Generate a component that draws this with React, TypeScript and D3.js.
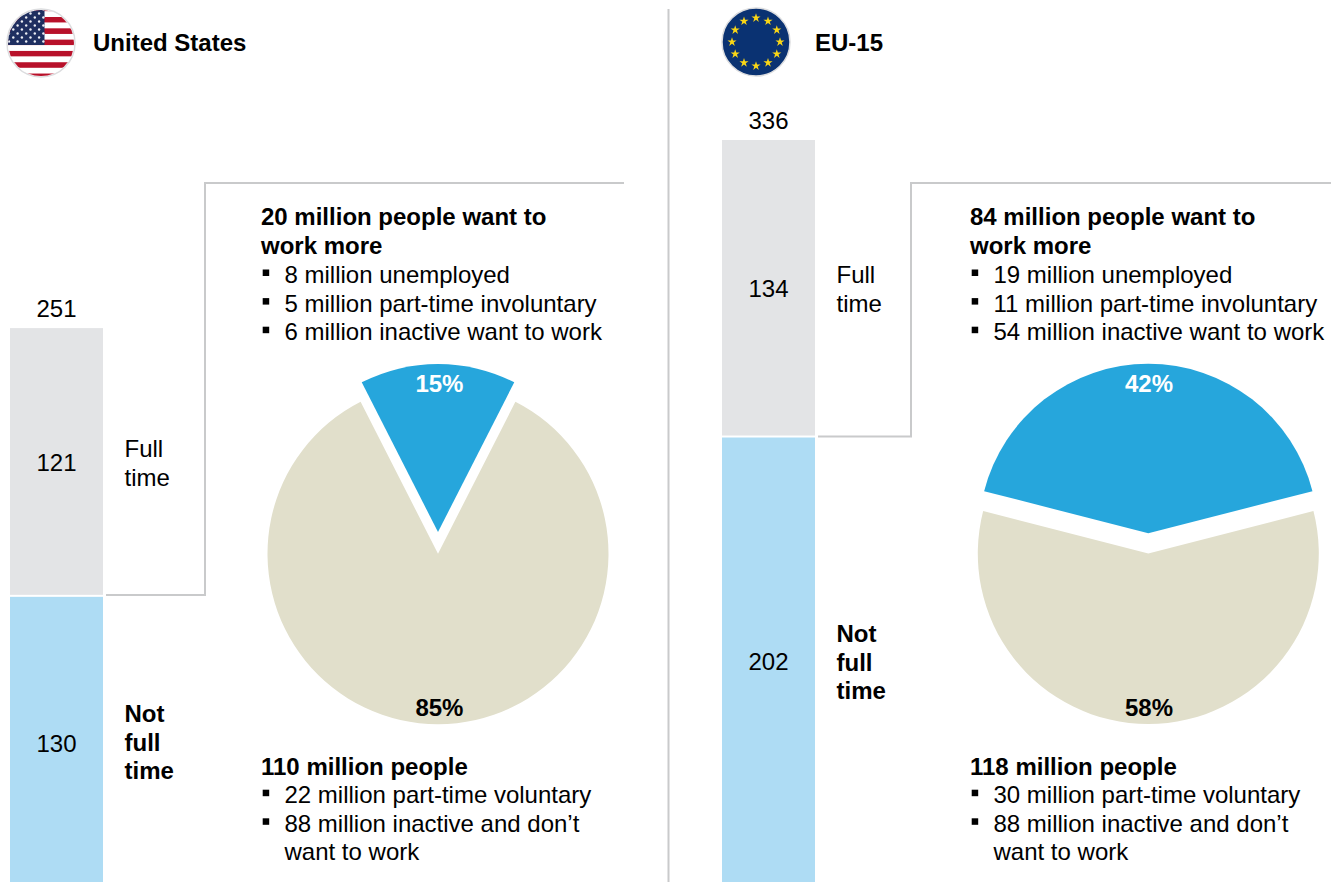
import React from "react";
import * as d3 from "d3";

const FONT = "'Liberation Sans', Arial, sans-serif";
const usBar = [{ label: "Not full time", value: 130 }, { label: "Full time", value: 121 }];
const euBar = [{ label: "Not full time", value: 202 }, { label: "Full time", value: 134 }];
const usTotal = 251;
const euTotal = 336;
const usPie = [15, 85];
const euPie = [42, 58];
const usWantHead = ["20 million people want to", "work more"];
const usWantItems = ["8 million unemployed", "5 million part-time involuntary", "6 million inactive want to work"];
const usNoHead = ["110 million people"];
const usNoItems = [["22 million part-time voluntary"], ["88 million inactive and don\u2019t", "want to work"]];
const euWantHead = ["84 million people want to", "work more"];
const euWantItems = ["19 million unemployed", "11 million part-time involuntary", "54 million inactive want to work"];
const euNoHead = ["118 million people"];
const euNoItems = [["30 million part-time voluntary"], ["88 million inactive and don\u2019t", "want to work"]];

const FS = 24;
const LH = 28.6;
const GREY = "#e3e4e6";
const LBLUE = "#aedcf4";
const BLUE = "#26a6dc";
const BEIGE = "#e1dfcb";
const LINE = "#c9cacb";
const y = d3.scaleLinear().domain([0, 336]).range([883.5, 140]);

function T(p: any) {
  return <text fontFamily={FONT} fontSize={FS} fill="#000" {...p} />;
}

function Bar({ x, data, total, labelX, labelLines, valueY }: any) {
  const stack = d3.stack().keys(["a", "b"])([{ a: data[0].value, b: data[1].value }] as any);
  const w = 93;
  return (
    <g>
      <rect x={x} y={y(stack[0][0][1]) + 1} width={w} height={882 - y(stack[0][0][1]) - 1} fill={LBLUE} />
      <rect x={x} y={y(stack[1][0][1])} width={w} height={y(stack[1][0][0]) - y(stack[1][0][1]) - 1} fill={GREY} />
      <T x={x + w / 2} y={y(total) - 11} textAnchor="middle">{total}</T>
      <T x={x + w / 2} y={valueY[1]} textAnchor="middle">{data[1].value}</T>
      <T x={x + w / 2} y={valueY[0]} textAnchor="middle">{data[0].value}</T>
      {labelLines.full.map((s: string, i: number) => (
        <T key={s} x={labelX} y={labelLines.fullY + i * LH}>{s}</T>
      ))}
      {labelLines.not.map((s: string, i: number) => (
        <T key={s} x={labelX} y={labelLines.notY + i * LH} fontWeight="bold">{s}</T>
      ))}
    </g>
  );
}

function Pie({ cx, cy, vals, labelY, labelDx, blueR, blueLift }: any) {
  const blueSpan = (vals[0] / 100) * 2 * Math.PI;
  const arcs = d3.pie<number>().sort(null).startAngle(-blueSpan / 2).endAngle(2 * Math.PI - blueSpan / 2)(vals);
  const arcBlue = d3.arc<any>().innerRadius(0).outerRadius(blueR);
  const arcBeige = d3.arc<any>().innerRadius(0).outerRadius(170.5);
  return (
    <g>
      <path d={arcBeige(arcs[1]) as string} transform={`translate(${cx},${cy})`} fill={BEIGE} />
      <path d={arcBlue(arcs[0]) as string} transform={`translate(${cx},${cy - blueLift})`} fill={BLUE} />
      <T x={cx + labelDx} y={labelY[0]} textAnchor="middle" fontWeight="bold" fill="#fff">{vals[0]}%</T>
      <T x={cx + labelDx} y={labelY[1]} textAnchor="middle" fontWeight="bold">{vals[1]}%</T>
    </g>
  );
}

function Block({ x, y: y0, head, items, itemDy }: any) {
  let row = 0;
  const out: any[] = [];
  head.forEach((s: string) => {
    out.push(<T key={"h" + row} x={x} y={y0 + row * LH} fontWeight="bold">{s}</T>);
    row++;
  });
  items.forEach((it: any) => {
    const lines = Array.isArray(it) ? it : [it];
    out.push(<rect key={"b" + row} x={x + 1.7} y={y0 + row * LH - 13.5 + itemDy} width={6.5} height={6.5} fill="#000" />);
    lines.forEach((s: string) => {
      out.push(<T key={"t" + row} x={x + 23.5} y={y0 + row * LH + itemDy}>{s}</T>);
      row++;
    });
  });
  return <g>{out}</g>;
}

function UsFlag({ cx, cy, r }: any) {
  const stripes = d3.range(13);
  const s = d3.scaleBand<number>().domain(stripes).range([cy - 37.3, cy + 36.2]);
  const stars: [number, number][] = [];
  const left = cx - r;
  for (let row = 0; row < 9; row++) {
    for (let c = 0; c < 6; c++) {
      const sx = left + 2 + c * 8.6 - (row % 2 ? 4.3 : 0);
      if (sx < cx + 2.5) stars.push([sx, cy - r + 0.5 + row * 4]);
    }
  }
  return (
    <g>
      <defs>
        <clipPath id="usclip"><circle cx={cx} cy={cy} r={r - 1} /></clipPath>
      </defs>
      <circle cx={cx} cy={cy} r={r} fill="#fff" stroke="#dcdddf" strokeWidth={1.5} />
      <g clipPath="url(#usclip)">
        {stripes.map((i) => (
          <rect key={i} x={cx - r} y={s(i)} width={2 * r} height={s.bandwidth()} fill={i % 2 ? "#fff" : "#b8112a"} />
        ))}
        <rect x={cx - r} y={cy - r} width={r + 3.5} height={r + 2} fill="#1f2f60" />
        {stars.map(([a, b], i) => <circle key={i} cx={a} cy={b} r={1.2} fill="#eef0f5" />)}
      </g>
    </g>
  );
}

function EuFlag({ cx, cy, r }: any) {
  const star = d3.symbol().type(d3.symbolStar).size(26);
  const angle = d3.scaleLinear().domain([0, 12]).range([0, 2 * Math.PI]);
  return (
    <g>
      <circle cx={cx} cy={cy} r={r} fill="#0a3272" stroke="#dcdddf" strokeWidth={1.5} />
      {d3.range(12).map((i) => (
        <path key={i} d={star() as string} fill="#f9d616"
          transform={`translate(${cx + 24 * Math.sin(angle(i))},${cy - 24 * Math.cos(angle(i))})`} />
      ))}
    </g>
  );
}

export default function App() {
  return (
    <svg width={1336} height={882} style={{ position: "absolute", left: 0, top: 0, background: "#fff" }}>
      <line x1={668.5} x2={668.5} y1={9} y2={882} stroke={LINE} strokeWidth={2} />
      <UsFlag cx={41} cy={43} r={34} />
      <EuFlag cx={756} cy={42} r={34} />
      <T x={93} y={51} fontWeight="bold">United States</T>
      <T x={815} y={51} fontWeight="bold">EU-15</T>

      <Bar x={10} data={usBar} total={usTotal} labelX={124.5} valueY={[751.5, 470.5]}
        labelLines={{ full: ["Full", "time"], fullY: 457, not: ["Not", "full", "time"], notY: 722 }} />
      <Bar x={722} data={euBar} total={euTotal} labelX={836.5} valueY={[670, 296.5]}
        labelLines={{ full: ["Full", "time"], fullY: 283, not: ["Not", "full", "time"], notY: 642 }} />

      <polyline points="106,595 205,595 205,183 624,183" fill="none" stroke={LINE} strokeWidth={2} />
      <polyline points="818,436.5 911,436.5 911,183 1331,183" fill="none" stroke={LINE} strokeWidth={2} />

      <Block x={261} y={225} head={usWantHead} items={usWantItems} itemDy={0.8} />
      <Block x={261} y={775} head={usNoHead} items={usNoItems} itemDy={-0.4} />
      <Block x={970} y={225} head={euWantHead} items={euWantItems} itemDy={0.8} />
      <Block x={970} y={775} head={euNoHead} items={euNoItems} itemDy={-0.4} />

      <Pie cx={438} cy={553.7} vals={usPie} labelY={[392, 716]} labelDx={1.4} blueR={168} blueLift={21.7} />
      <Pie cx={1148.3} cy={553.5} vals={euPie} labelY={[392, 716]} labelDx={0.7} blueR={169.5} blueLift={20.2} />
    </svg>
  );
}
